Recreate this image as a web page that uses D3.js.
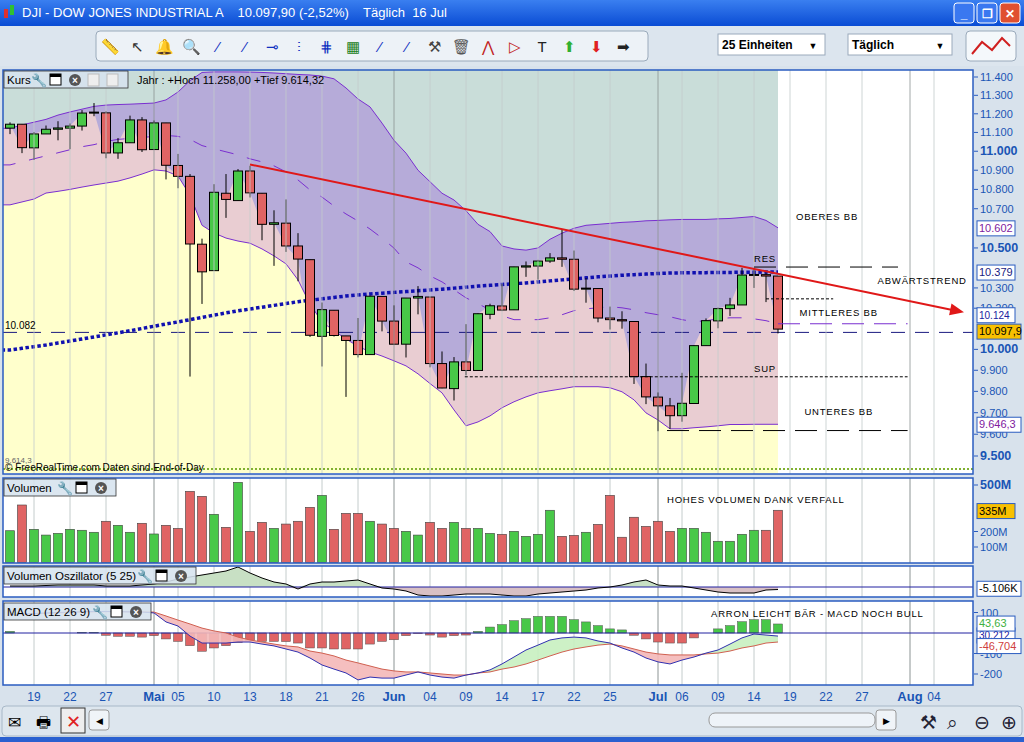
<!DOCTYPE html>
<html><head><meta charset="utf-8">
<script src="https://cdn.jsdelivr.net/npm/d3@7"></script>
<style>body{margin:0;background:#d8e2ec;overflow:hidden}svg{display:block}text{font-family:"Liberation Sans",Arial,sans-serif}</style>
</head><body><svg id="c" width="1024" height="742"></svg>
<script>
// ---------- DATA ----------
const opens  =[11123,11144,11018,11092,11117,11123,11134,11205,11205,10991,11045,11167,11009,11151,10925,10868,10519,10386,10780,10742,10896,10780,10620,10626,10510,10441,10063,10190,10065,10043,9975,10258,10137,10025,10250,10255,9932,9813,9940,9899,10170,10211,10192,10404,10409,10434,10450,10443,10294,10297,10152,10144,10135,9870,9773,9732,9686,9743,10018,10138,10198,10216,10363,10366,10359];
const highs  =[11154,11144,11102,11137,11160,11148,11220,11258,11213,11070,11190,11182,11164,11151,10986,10880,10547,10827,10880,10906,10923,10781,10692,10748,10575,10441,10228,10190,10065,10152,10262,10258,10214,10250,10309,10255,9990,9963,10122,10175,10222,10320,10405,10432,10440,10474,10594,10487,10349,10297,10208,10185,10135,9932,9795,9769,9888,10020,10150,10203,10251,10400,10400,10376,10359];
const lows   =[11091,10990,10954,11092,11058,11011,11110,11187,10963,10960,11045,10996,11009,10852,10806,9870,10221,10386,10653,10742,10758,10539,10410,10480,10333,10060,9918,10062,9774,9961,9975,10087,10023,9961,10170,9914,9815,9757,9876,9899,10146,10186,10192,10355,10341,10425,10405,10285,10227,10131,10096,10100,9835,9740,9614,9625,9658,9743,10018,10102,10162,10216,10300,10230,10077];
const closes =[11144,11019,11092,11117,11124,11134,11204,11209,10991,11045,11167,11008,11151,10926,10868,10520,10380,10785,10748,10896,10782,10620,10628,10510,10444,10068,10193,10067,10043,9975,10259,10137,10025,10250,10258,9932,9816,9940,9899,10173,10212,10191,10405,10410,10434,10450,10443,10294,10299,10152,10144,10138,9870,9774,9732,9686,9744,10018,10139,10198,10216,10364,10367,10359,10098];
const bbUpper=[11122,11140,11155,11170,11193,11210,11225,11240,11247,11250,11252,11255,11258,11275,11318,11380,11425,11428,11428,11428,11427,11425,11422,11418,11414,11411,11405,11390,11340,11280,11237,11150,11058,10990,10900,10840,10780,10745,10690,10620,10583,10510,10495,10489,10500,10544,10575,10600,10615,10620,10625,10630,10633,10638,10640,10643,10645,10645,10645,10648,10650,10655,10660,10640,10602];
const bbMiddle=[10928,10944,10960,10976,10992,11008,11024,11035,11052,11063,11068,11073,11079,11084,11079,11063,11030,11013,10997,10981,10960,10944,10923,10891,10849,10797,10760,10714,10673,10637,10596,10550,10499,10430,10400,10360,10330,10291,10251,10222,10192,10163,10144,10144,10144,10153,10168,10188,10197,10202,10207,10202,10192,10178,10168,10158,10144,10134,10139,10148,10153,10153,10148,10139,10124];
const bbLower=[10720,10735,10750,10781,10790,10800,10812,10823,10833,10843,10860,10880,10902,10896,10870,10770,10615,10576,10550,10535,10524,10495,10460,10420,10340,10220,10133,10090,10050,10015,9988,9968,9945,9921,9883,9837,9793,9713,9639,9657,9685,9723,9751,9774,9793,9803,9812,9822,9822,9822,9817,9798,9760,9699,9666,9625,9625,9630,9634,9639,9645,9645,9646,9646,9646];
const sma200=[9997,10005,10013,10021,10031,10040,10050,10060,10070,10080,10090,10101,10112,10123,10133,10144,10155,10166,10177,10187,10196,10205,10214,10223,10232,10239,10246,10253,10260,10265,10270,10274,10278,10282,10286,10290,10294,10299,10304,10309,10313,10317,10321,10325,10330,10335,10340,10345,10350,10355,10359,10363,10366,10369,10372,10374,10375,10376,10376,10377,10377,10378,10378,10379,10379];
const volume =[205,371,214,177,188,214,208,195,266,240,195,253,184,240,220,459,427,311,227,517,201,259,220,248,266,356,433,214,317,317,266,248,220,201,177,259,220,259,220,220,188,182,201,169,182,337,169,175,195,246,433,163,292,233,266,201,220,220,195,137,137,182,208,208,337];
const volOsc =[2,2,2,3,4,4,4,4,2,2,2,4,6,10,16,20,24,28,32,40,28,18,10,6,-4,6,10,10,12,14,6,-2,-4,-8,-16,-18,-18,-16,-14,-14,-14,-16,-18,-18,-14,-12,-10,-8,-6,-2,0,4,10,14,4,2,2,-2,-6,-10,-12,-12,-12,-6,-5];
const macdLine=[90,92,95,98,100,102,104,105,105,104,103,102,98,54,34,-15,-49,-49,-49,-44,-44,-54,-63,-78,-93,-122,-156,-176,-195,-229,-215,-220,-220,-205,-190,-205,-215,-220,-205,-195,-180,-151,-117,-83,-59,-34,-24,-20,-24,-39,-49,-73,-93,-122,-141,-151,-132,-117,-98,-83,-54,-24,-5,-10,-15];
const signalLine=[88,90,93,96,98,100,102,103,104,104,103,103,102,83,63,44,24,10,0,-20,-34,-44,-54,-63,-68,-88,-98,-112,-132,-146,-161,-176,-185,-190,-190,-195,-200,-205,-205,-195,-190,-176,-166,-151,-132,-112,-93,-78,-68,-59,-54,-63,-78,-93,-102,-107,-107,-107,-102,-98,-88,-73,-63,-49,-44];
const macdHist=[8,0,0,0,0,0,3,3,-11,-16,-16,-20,-13,-29,-41,-62,-89,-73,-62,-46,-36,-41,-41,-42,-49,-73,-73,-78,-78,-78,-54,-41,-33,-13,-3,-10,-20,-13,-10,8,29,41,60,70,81,81,81,65,54,36,20,15,-11,-29,-44,-49,-49,-24,0,20,36,55,65,65,44];
const tickIdx   =[2,5,8,12,14,17,20,23,26,29,32,35,38,41,44,47,50,54,56,59,62,65,68,71,75,77];
const tickLabels=["19","22","27","Mai","05","10","13","18","21","26","Jun","04","09","14","17","22","25","Jul","06","09","14","19","22","27","Aug","04"];
const monthTicks=["Mai","Jun","Jul","Aug"];
const priceTicks=[11400,11300,11200,11100,11000,10900,10800,10700,10500,10300,10200,10000,9900,9800,9700,9600,9500];
const boldPrice=[11000,10500,10000,9500];
const volTicks=[500,200,100];
const macdTicks=[100,-100,-200];
const trendPts=[{i:20,p:10930},{i:79.5,p:10180}];
const levels=[ // [price, fromIdx, toIdx, style]
 [10404,62,74,"res"],[10246,63,68.6,"dot"],[10124,64,74.8,"mid"],[9869,37.9,74.8,"dot"],[9617,54.75,74.8,"res"]];
const notes=[["OBERES BB",10640,65.5],["RES",10430,62],["ABWÄRTSTREND",10320,72.3],["MITTLERES BB",10160,65.8],["SUP",9890,62],["UNTERES BB",9690,66.2]];

// ---------- SCALES ----------
const svg=d3.select("#c");
const x=d3.scaleLinear().domain([0,1]).range([10,22]);
const yP=d3.scaleLog().domain([9500,11400]).range([456,77]);
const yV=d3.scaleLinear().domain([0,500]).range([562.5,485]);
const yO=d3.scaleLinear().domain([0,10]).range([587,582]);
const yM=d3.scaleLinear().domain([0,100]).range([633,612.5]);
const idx=d3.range(closes.length);
const ext=[-0.7].concat(idx);
const get=(a,i)=>a[Math.max(0,i)];
const L=3,R=973;

// ---------- CHROME ----------
const defs=svg.append("defs");
const g1=defs.append("linearGradient").attr("id","tb").attr("x1",0).attr("y1",0).attr("x2",0).attr("y2",1);
g1.append("stop").attr("offset",0).attr("stop-color","#3a7ff0");g1.append("stop").attr("offset",1).attr("stop-color","#0a4cd4");
svg.append("rect").attr("width",1024).attr("height",26).attr("fill","url(#tb)");
svg.append("rect").attr("x",4).attr("y",9).attr("width",4).attr("height",9).attr("fill","#e03030");
svg.append("rect").attr("x",10).attr("y",5).attr("width",4).attr("height",10).attr("fill","#30c030");
svg.append("text").attr("x",22).attr("y",17).attr("fill","#fff").attr("font-size",13).attr("xml:space","preserve")
  .text("DJI - DOW JONES INDUSTRIAL A    10.097,90 (-2,52%)    Täglich  16 Jul");
[[954,"#3a78f0","_"],[977,"#3a78f0","❐"],[1000,"#e05030","✕"]].forEach(d=>{
  svg.append("rect").attr("x",d[0]).attr("y",3).attr("width",20).attr("height",20).attr("rx",3).attr("fill",d[1]).attr("stroke","#fff");
  svg.append("text").attr("x",d[0]+10).attr("y",18).attr("text-anchor","middle").attr("fill","#fff").attr("font-size",12).attr("font-weight","bold").text(d[2]);});
svg.append("rect").attr("x",0).attr("y",26).attr("width",1024).attr("height",40).attr("fill","#dce5ee");
svg.append("rect").attr("x",96).attr("y",31).attr("width",552).attr("height",30).attr("rx",4).attr("fill","#edf2f7").attr("stroke","#9aaabb");
const icons=["📏","↖","🔔","🔍","⁄","⁄","⊸","⫶","⋕","▦","⁄","⁄","⚒","🗑","⋀","▷","T","⬆","⬇","➡"];
const iconCol=["#666","#333","#d8a000","#333","#1030c0","#1030c0","#1030c0","#1030c0","#1030c0","#208020","#1030c0","#1030c0","#444","#555","#c02020","#c02020","#222","#30b030","#e02020","#222"];
icons.forEach((c,k)=>svg.append("text").attr("x",110+k*27).attr("y",52).attr("text-anchor","middle").attr("font-size",15).attr("fill",iconCol[k]).text(c));
[[718,107,"25 Einheiten"],[848,104,"Täglich"]].forEach(d=>{
  svg.append("rect").attr("x",d[0]).attr("y",34).attr("width",d[1]).attr("height",21).attr("fill","#fff").attr("stroke","#9aaabb");
  svg.append("text").attr("x",d[0]+4).attr("y",49).attr("font-size",12).attr("font-weight","bold").text(d[2]);
  svg.append("text").attr("x",d[0]+d[1]-12).attr("y",49).attr("font-size",9).attr("text-anchor","middle").text("▼");});
svg.append("rect").attr("x",966).attr("y",31).attr("width",50).attr("height",30).attr("rx",4).attr("fill","#f4f8fb").attr("stroke","#9aaabb");
svg.append("path").attr("d","M972,54 L982,42 L992,50 L1002,38 L1010,46").attr("fill","none").attr("stroke","#d02020").attr("stroke-width",2);

// ---------- PANELS ----------
const panels=[[70,474],[478,563],[566,597],[601,685]];
panels.forEach(p=>svg.append("rect").attr("x",L).attr("y",p[0]).attr("width",R-L).attr("height",p[1]-p[0]).attr("fill","#fff"));

const cp=defs.append("clipPath").attr("id","pc");cp.append("rect").attr("x",L).attr("y",70).attr("width",R-L).attr("height",403);
const pg=svg.append("g").attr("clip-path","url(#pc)");
const areaTo=(arr,col)=>pg.append("path").datum(ext).attr("fill",col)
  .attr("d",d3.area().x(i=>x(i)).y0(474).y1(i=>yP(get(arr,i)))(ext));
pg.append("rect").attr("x",L).attr("y",70).attr("width",x(64)-L).attr("height",404).attr("fill","#c9ddd9");
areaTo(bbUpper,"#b6abd9");
areaTo(closes,"#e9cdd2");
areaTo(bbLower,"#ffffcc");

const gridTop=[70,478,566,601],gridBot=[474,563,597,685];
tickIdx.forEach((t,k)=>{
  const m=monthTicks.includes(tickLabels[k]);
  gridTop.forEach((t0,j)=>svg.append("line").attr("x1",x(t)).attr("x2",x(t)).attr("y1",t0).attr("y2",gridBot[j])
    .attr("stroke",m?"#8c9494":"#c4cccc").attr("stroke-width",1).attr("opacity",j==0?0.8:1));
});

const line=(arr)=>d3.line().x(i=>x(i)).y(i=>yP(get(arr,i)))(ext);
pg.append("path").attr("d",line(bbUpper)).attr("fill","none").attr("stroke","#7a2fd0").attr("stroke-width",1);
pg.append("path").attr("d",line(bbLower)).attr("fill","none").attr("stroke","#7a2fd0").attr("stroke-width",1);
pg.append("path").attr("d",line(bbMiddle)).attr("fill","none").attr("stroke","#7a2fd0").attr("stroke-width",1).attr("stroke-dasharray","14,14");
pg.append("line").attr("x1",L).attr("x2",R).attr("y1",yP(10082)).attr("y2",yP(10082)).attr("stroke","#1a1a80").attr("stroke-dasharray","14,10");
svg.append("text").attr("x",5).attr("y",yP(10082)-3).attr("font-size",10).text("10.082");
pg.append("path").attr("d",d3.line().x(i=>x(i)).y(i=>yP(get(sma200,i)))(ext)).attr("fill","none").attr("stroke","#1010b0").attr("stroke-width",3.5).attr("stroke-dasharray","3.5,2.5");
const cg=pg.append("g");
idx.forEach(i=>{
  const up=closes[i]>=opens[i];
  cg.append("line").attr("x1",x(i)).attr("x2",x(i)).attr("y1",yP(highs[i])).attr("y2",yP(lows[i])).attr("stroke","#000");
  const t=yP(Math.max(opens[i],closes[i])),b=yP(Math.min(opens[i],closes[i]));
  cg.append("rect").attr("x",x(i)-4.5).attr("y",t).attr("width",9).attr("height",Math.max(1,b-t))
    .attr("fill",up?"#48c848":"#e06464").attr("stroke","#000").attr("stroke-width",1);
});
levels.forEach(l=>{
  const st=l[3]=="res"?{c:"#000",d:"22,10"}:l[3]=="mid"?{c:"#7a2fd0",d:"22,10"}:{c:"#000",d:"3,2"};
  svg.append("line").attr("x1",x(l[1])).attr("x2",x(l[2])).attr("y1",yP(l[0])).attr("y2",yP(l[0])).attr("stroke",st.c).attr("stroke-dasharray",st.d);
});
notes.forEach(n=>svg.append("text").attr("x",x(n[2])).attr("y",yP(n[1])).attr("font-size",9.5).attr("letter-spacing",0.8).text(n[0]));
const tx1=x(trendPts[0].i),ty1=yP(trendPts[0].p),tx2=x(trendPts[1].i),ty2=yP(trendPts[1].p);
svg.append("line").attr("x1",tx1).attr("y1",ty1).attr("x2",tx2-8).attr("y2",ty2-1.6).attr("stroke","#e01818").attr("stroke-width",2);
const ang=Math.atan2(ty2-ty1,tx2-tx1);
svg.append("path").attr("d","M0,0 L-14,-6 L-14,6 Z").attr("fill","#e01818").attr("transform",`translate(${tx2},${ty2}) rotate(${ang*180/Math.PI})`);
svg.append("line").attr("x1",L).attr("x2",R).attr("y1",469).attr("y2",469).attr("stroke","#80b030").attr("stroke-width",2).attr("stroke-dasharray","2,2");
svg.append("text").attr("x",5).attr("y",463).attr("font-size",8).attr("fill","#666").text("9.614,3");
svg.append("text").attr("x",5).attr("y",471).attr("font-size",10).text("© FreeRealTime.com Daten sind End-of-Day");
svg.append("text").attr("x",137).attr("y",84).attr("font-size",11).text("Jahr : +Hoch 11.258,00 +Tief 9.614,32");

idx.forEach(i=>{
  const up=closes[i]>=opens[i];
  svg.append("rect").attr("x",x(i)-4.5).attr("y",yV(volume[i])).attr("width",9).attr("height",yV(0)-yV(volume[i]))
    .attr("fill",up?"#48c848":"#e06464").attr("stroke","#404040").attr("stroke-width",0.6);
});
svg.append("text").attr("x",667).attr("y",503).attr("font-size",9.5).attr("letter-spacing",0.8).text("HOHES VOLUMEN DANK VERFALL");

const oa=(f)=>d3.area().x(i=>x(i)).y0(yO(0)).y1(i=>yO(f(volOsc[i])))(idx);
svg.append("path").attr("d",oa(v=>Math.max(0,v))).attr("fill","#c8e0c4");
svg.append("path").attr("d",oa(v=>Math.min(0,v))).attr("fill","#d8c0c4");
svg.append("line").attr("x1",L).attr("x2",R).attr("y1",yO(0)).attr("y2",yO(0)).attr("stroke","#2020a0");
svg.append("path").attr("d",d3.line().x(i=>x(i)).y(i=>yO(volOsc[i]))(idx)).attr("fill","none").attr("stroke","#000");

idx.forEach(i=>{
  const v=macdHist[i]; if(Math.abs(v)<0.5)return;
  svg.append("rect").attr("x",x(i)-4.5).attr("y",Math.min(yM(v),yM(0))).attr("width",9).attr("height",Math.abs(yM(v)-yM(0)))
    .attr("fill",v>0?"#48c848":"#e06464").attr("stroke","#505050").attr("stroke-width",0.5);
});
svg.append("line").attr("x1",L).attr("x2",R).attr("y1",yM(0)).attr("y2",yM(0)).attr("stroke","#2020a0");
const ma=(f)=>d3.area().x(i=>x(i)).y0(i=>yM(signalLine[i])).y1(i=>yM(f(macdLine[i],signalLine[i])))(idx);
svg.append("path").attr("d",ma((m,s)=>Math.max(m,s))).attr("fill","#c8f0c0").attr("opacity",0.9);
svg.append("path").attr("d",ma((m,s)=>Math.min(m,s))).attr("fill","#f4b8b8").attr("opacity",0.9);
svg.append("path").attr("d",d3.line().x(i=>x(i)).y(i=>yM(signalLine[i]))(idx)).attr("fill","none").attr("stroke","#d06050");
svg.append("path").attr("d",d3.line().x(i=>x(i)).y(i=>yM(macdLine[i]))(idx)).attr("fill","none").attr("stroke","#3030b0");
svg.append("text").attr("x",711).attr("y",617).attr("font-size",9.5).attr("letter-spacing",0.8).text("ARRON LEICHT BÄR - MACD NOCH BULL");

panels.forEach(p=>svg.append("rect").attr("x",L).attr("y",p[0]).attr("width",R-L).attr("height",p[1]-p[0]).attr("fill","none").attr("stroke","#2a5cc0").attr("stroke-width",1.5));

function header(y,w,label,icons){
  svg.append("rect").attr("x",L+1).attr("y",y+1).attr("width",w).attr("height",17).attr("fill","#d6e2ee").attr("fill-opacity",0.88).attr("stroke","#333").attr("stroke-width",0.8);
  svg.append("text").attr("x",7).attr("y",y+14).attr("font-size",11.5).text(label);
  icons.forEach((c,k)=>{
    if(c=="w")svg.append("text").attr("x",c0(k)).attr("y",y+15).attr("font-size",13).text("🔧");
    if(c=="b"){svg.append("rect").attr("x",c0(k)).attr("y",y+4).attr("width",11).attr("height",11).attr("fill","#fff").attr("stroke","#000");svg.append("rect").attr("x",c0(k)).attr("y",y+4).attr("width",11).attr("height",3).attr("fill","#000");}
    if(c=="x"){svg.append("circle").attr("cx",c0(k)+6).attr("cy",y+10).attr("r",6).attr("fill","#555");svg.append("text").attr("x",c0(k)+6).attr("y",y+14).attr("text-anchor","middle").attr("fill","#fff").attr("font-size",10).attr("font-weight","bold").text("×");}
    if(c=="a")svg.append("rect").attr("x",c0(k)).attr("y",y+4).attr("width",11).attr("height",12).attr("fill","#eee").attr("stroke","#bbb");
  });
  function c0(k){return w-icons.length*19+k*19+2;}
}
header(70,124,"Kurs",["w","b","x","a","a"]);
header(478,112,"Volumen",["w","b","x"]);
header(566,192,"Volumen Oszillator (5 25)",["w","b","x"]);
header(602,147,"MACD (12 26 9)",["w","b","x"]);

const ax=(y,txt,bold)=>{svg.append("line").attr("x1",974).attr("x2",978).attr("y1",y).attr("y2",y).attr("stroke","#2a5cc0");
  svg.append("text").attr("x",980).attr("y",y+4).attr("font-size",bold?12.5:11).attr("font-weight",bold?"bold":"normal").attr("fill","#1a55b5").text(txt);};
const fmt=v=>d3.format(",")(v).replace(/,/g,".");
priceTicks.forEach(v=>ax(yP(v),fmt(v),boldPrice.includes(v)));
volTicks.forEach(v=>ax(yV(v),v+"M",v==500));
macdTicks.forEach(v=>ax(yM(v),v,false));
const box=(y,txt,col,bg,fs)=>{svg.append("rect").attr("x",977).attr("y",y-7).attr("width",txt.length>6?44:38).attr("height",15).attr("fill",bg).attr("stroke","#2a5cc0");
  svg.append("text").attr("x",979).attr("y",y+4).attr("font-size",fs||11).attr("fill",col).text(txt);};
box(yP(10124)-9,"10.124","#2020a0","#fff",10);
box(yP(10602),"10.602","#8020a0","#fff");
box(yP(10379),"10.379","#1a1a80","#fff");
box(yP(10097.9)+2,"10.097,9","#000","#f8c000");
box(yP(9646.3),"9.646,3","#8020a0","#fff");
box(yV(335),"335M","#000","#f8c000");
box(yO(-2.5),"-5.106K","#000","#fff");
box(yM(0)+2,"30,212","#2020a0","#fff",10);
box(yM(43.63)-1,"43,63","#40b040","#fff");
box(yM(-46.7)+3,"-46,704","#d04040","#fff");

tickIdx.forEach((t,k)=>{const m=monthTicks.includes(tickLabels[k]);
  svg.append("text").attr("x",x(t)).attr("y",701).attr("text-anchor","middle").attr("font-size",m?13:12).attr("font-weight",m?"bold":"normal").attr("fill","#1a55b5").text(tickLabels[k]);});

svg.append("rect").attr("x",2).attr("y",706).attr("width",1020).attr("height",30).attr("rx",4).attr("fill","#dde6ee").attr("stroke","#a8b8c8");
svg.append("text").attr("x",8).attr("y",728).attr("font-size",16).text("✉");
svg.append("text").attr("x",36).attr("y",728).attr("font-size",16).text("🖶");
svg.append("rect").attr("x",61).attr("y",708).attr("width",24).attr("height",25).attr("fill","#eee").attr("stroke","#333");
svg.append("text").attr("x",73).attr("y",728).attr("text-anchor","middle").attr("font-size",18).attr("fill","#e02020").text("✕");
svg.append("rect").attr("x",89).attr("y",710).attr("width",20).attr("height",20).attr("rx",3).attr("fill","#f0f4f8").attr("stroke","#999");
svg.append("text").attr("x",96).attr("y",724).attr("font-size",9).text("◀");
svg.append("rect").attr("x",709).attr("y",713).attr("width",166).attr("height",14).attr("rx",6).attr("fill","#eef3f8").attr("stroke","#999");
svg.append("rect").attr("x",876).attr("y",710).attr("width",20).attr("height",20).attr("rx",3).attr("fill","#f0f4f8").attr("stroke","#999");
svg.append("text").attr("x",883).attr("y",724).attr("font-size",9).text("▶");
["⚒","⌕","⊖","⊕"].forEach((c,k)=>svg.append("text").attr("x",920+k*27).attr("y",729).attr("font-size",19).attr("fill","#223").text(c));
svg.append("rect").attr("x",0).attr("y",737).attr("width",1024).attr("height",5).attr("fill","#2a60d0");
</script></body></html>
